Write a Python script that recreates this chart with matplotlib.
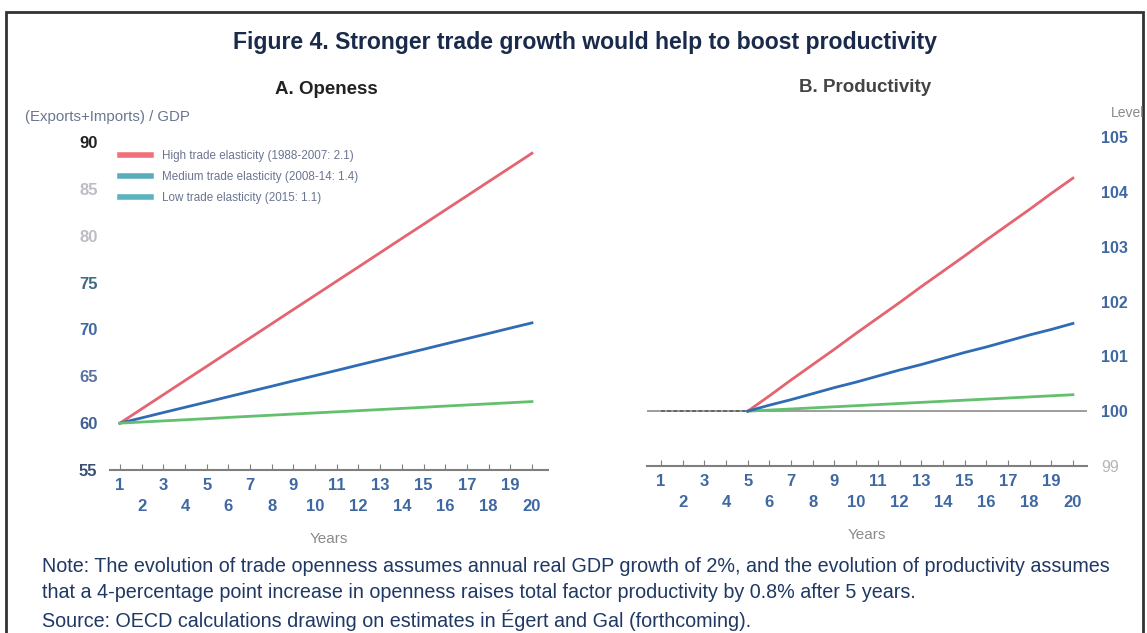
import matplotlib
matplotlib.use("Agg")
import matplotlib.pyplot as plt
from matplotlib.lines import Line2D
from matplotlib.patches import Rectangle

# ---------------- data ----------------
years = list(range(1, 21))
open_high = [60.00, 61.52, 63.03, 64.55, 66.06, 67.58, 69.09, 70.61, 72.13, 73.64,
             75.16, 76.67, 78.19, 79.71, 81.22, 82.74, 84.25, 85.77, 87.28, 88.80]
open_med = [60.00, 60.56, 61.13, 61.69, 62.25, 62.82, 63.38, 63.94, 64.51, 65.07,
            65.63, 66.20, 66.76, 67.32, 67.88, 68.45, 69.01, 69.57, 70.14, 70.70]
open_low = [60.00, 60.12, 60.24, 60.36, 60.48, 60.61, 60.73, 60.85, 60.97, 61.09,
            61.21, 61.33, 61.45, 61.57, 61.69, 61.82, 61.94, 62.06, 62.18, 62.30]

nan = float("nan")
prod_high = [nan, nan, nan, nan, 100.00, 100.28, 100.57, 100.85, 101.13, 101.42,
             101.70, 101.98, 102.27, 102.55, 102.83, 103.12, 103.40, 103.68, 103.97, 104.25]
prod_med = [nan, nan, nan, nan, 100.00, 100.11, 100.21, 100.32, 100.43, 100.53,
            100.64, 100.75, 100.85, 100.96, 101.07, 101.17, 101.28, 101.39, 101.49, 101.60]
prod_low = [nan, nan, nan, nan, 100.00, 100.02, 100.04, 100.06, 100.08, 100.10,
            100.12, 100.14, 100.16, 100.18, 100.20, 100.22, 100.24, 100.26, 100.28, 100.30]
prod_pre = [100.0, 100.0, 100.0, 100.0, 100.0] + [nan] * 15
prod_base = 100

series_labels = ["High trade elasticity (1988-2007: 2.1)",
                 "Medium trade elasticity (2008-14: 1.4)",
                 "Low trade elasticity (2015: 1.1)"]
open_yticks = [55, 60, 65, 70, 75, 80, 85, 90]
prod_yticks = [99, 100, 101, 102, 103, 104, 105]

title = "Figure 4. Stronger trade growth would help to boost productivity"
sub_a = "A. Openess"
sub_b = "B. Productivity"
note_lines = [
    "Note: The evolution of trade openness assumes annual real GDP growth of 2%, and the evolution of productivity assumes",
    "that a 4-percentage point increase in openness raises total factor productivity by 0.8% after 5 years.",
    "Source: OECD calculations drawing on estimates in Égert and Gal (forthcoming).",
]

# ---------------- style ----------------
C_HIGH = "#e4646f"
C_MED = "#2f6cb4"
C_LOW = "#62c06e"
LEG_COLORS = ["#f0717b", "#5aaebb", "#5cb3c0"]
TICK_BLUE = "#3f68a3"
NAVY = "#1f3864"
SANS = ["Liberation Sans", "DejaVu Sans"]

W, H = 1147, 633
fig = plt.figure(figsize=(W / 100, H / 100), dpi=100)
fig.patch.set_facecolor("white")


def fx(px):
    return px / W


def fy(py):
    return 1 - py / H


# frame
fig.add_artist(Rectangle((fx(6), fy(700)), fx(1137), (700 - 12) / H,
                         transform=fig.transFigure, fill=False,
                         edgecolor="#333333", lw=2.0, clip_on=False))

# ---------------- panel A ----------------
axA = fig.add_axes([fx(110), fy(470), fx(548 - 110), (470 - 142) / H])
axA.plot(years, open_high, color=C_HIGH, lw=2.0)
axA.plot(years, open_med, color=C_MED, lw=2.0)
axA.plot(years, open_low, color=C_LOW, lw=2.0)
axA.set_xlim(0.54, 20.74)
axA.set_ylim(55, 90)


def style_x(ax):
    for s in ("top", "right", "left"):
        ax.spines[s].set_visible(False)
    ax.spines["bottom"].set_color("#7f7f7f")
    ax.spines["bottom"].set_linewidth(1.5)
    ax.set_xticks(years)
    ax.set_xticklabels([str(y) if y % 2 else "\n" + str(y) for y in years],
                       color=TICK_BLUE, fontsize=12, fontweight="bold",
                       family=SANS, linespacing=1.45)
    ax.tick_params(axis="x", direction="in", length=4, color="#7f7f7f", pad=6)
    ax.set_xlabel("Years", color="#8a8a8a", fontsize=11, family=SANS, labelpad=13)


style_x(axA)
axA.set_yticks(open_yticks)
axA.set_yticklabels([str(v) for v in open_yticks], fontsize=12,
                    fontweight="bold", family=SANS)
axA.tick_params(axis="y", length=0, pad=9)
ycols = {55: "#3a4f73", 60: "#3f5f95", 65: "#5a74a8", 70: "#3f68a3",
         75: "#3d6a80", 80: "#bdbdc5", 85: "#bdbdc5", 90: "#222222"}
for lab, v in zip(axA.get_yticklabels(), open_yticks):
    lab.set_color(ycols[v])

fig.text(fx(25), fy(117), "(Exports+Imports) / GDP", fontsize=10.8,
         color="#6a7590", family=SANS, va="center", ha="left")

handles = [Line2D([0], [0], color=c, lw=4) for c in LEG_COLORS]
leg = axA.legend(handles, series_labels, loc="upper left",
                 bbox_to_anchor=(0.005, 1.0), frameon=False,
                 prop={"family": SANS, "size": 8.4}, handlelength=2.6,
                 labelspacing=0.78, handletextpad=1.0, borderaxespad=0.3)
for t in leg.get_texts():
    t.set_color("#6a7590")

# ---------------- panel B ----------------
axB = fig.add_axes([fx(647), fy(466), fx(1087 - 647), (466 - 137) / H])
axB.axhline(prod_base, color="#8c8c8c", lw=1.2, zorder=1)
axB.plot(years, prod_pre, color="#666666", lw=1.4, ls=(0, (2, 1.2)), zorder=2)
axB.plot(years, prod_high, color=C_HIGH, lw=2.0, zorder=3)
axB.plot(years, prod_med, color=C_MED, lw=2.0, zorder=3)
axB.plot(years, prod_low, color=C_LOW, lw=2.0, zorder=2)
axB.set_xlim(0.35, 20.65)
axB.set_ylim(99, 105)
style_x(axB)
axB.yaxis.tick_right()
axB.set_yticks(prod_yticks)
axB.set_yticklabels([str(v) for v in prod_yticks], fontsize=11.5,
                    fontweight="bold", family=SANS, color=TICK_BLUE)
axB.tick_params(axis="y", length=0, pad=10)
axB.get_yticklabels()[0].set_color("#b5b5b5")
axB.get_yticklabels()[0].set_fontweight("normal")

fig.text(fx(1128), fy(113), "Level", fontsize=10, color="#8a8a8a",
         family=SANS, va="center", ha="center")

# ---------------- titles & notes ----------------
fig.text(fx(585), fy(43), title, fontsize=16.6, fontweight="bold",
         color="#1a2a4a", family=SANS, ha="center", va="center")
fig.text(fx(326), fy(90), sub_a, fontsize=13.5, fontweight="bold",
         color="#222222", family=SANS, ha="center", va="center")
fig.text(fx(865), fy(88), sub_b, fontsize=13.5, fontweight="bold",
         color="#444444", family=SANS, ha="center", va="center")

for line, yy in zip(note_lines, [566, 593, 620]):
    fig.text(fx(42), fy(yy), line, fontsize=14.2, color=NAVY,
             family=SANS, ha="left", va="center")

fig.savefig("out.png", dpi=100, facecolor="white")
